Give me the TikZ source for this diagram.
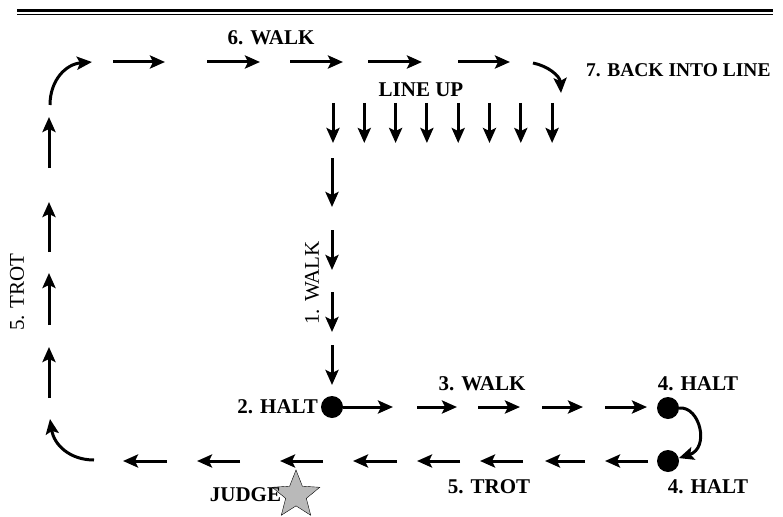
\documentclass[tikz,border=0pt]{standalone}
\usepackage{fontspec}
\setmainfont{Liberation Serif}
\usetikzlibrary{arrows.meta,shapes.geometric}
\tikzset{halt/.style = {circle,fill,inner sep=0pt,minimum size=22pt}}
\tikzset{pace/.style = {line width=3pt,-{Stealth[length=15pt,width=13pt,inset=3pt]}}}
\tikzset{lbl/.style = {inner sep=0pt,font=\fontsize{21}{24}\selectfont\bfseries}}
\tikzset{sidelbl/.style = {inner sep=0pt,rotate=90,font=\fontsize{21}{24}\selectfont}}

\begin{document}
\begin{tikzpicture}[x=1pt,y=-1pt]
    \useasboundingbox (0,0) rectangle (783,516);
    % rule at the top
    \draw[line width=3pt] (17,11) -- (773,11);
    \draw[line width=1pt] (17,14.5) -- (773,14.5);

    % halt points and the judge
    \node[halt] (h2) at (332,407) {};
    \node[halt] (h4a) at (668,408) {};
    \node[halt] (h4b) at (668,461) {};
    \node[star,star points=5,star point ratio=2.3,minimum size=50pt,inner sep=0pt,
          draw,fill=gray!55] (judge) at (296,495) {};

    % labels
    \node[lbl] (walk6) at (271,38) {6. WALK};
    \node[lbl] (lineup) at (421,90) {LINE UP};
    \node[lbl,anchor=west,font=\fontsize{19.5}{23}\selectfont\bfseries] (back) at (586,70) {7. BACK INTO LINE};
    \node[lbl,anchor=east] (halt2) at (318,407) {2. HALT};
    \node[lbl] (walk3) at (482,384) {3. WALK};
    \node[lbl] (halt4a) at (698,384) {4. HALT};
    \node[lbl] (halt4b) at (708,487) {4. HALT};
    \node[lbl] (trot5) at (489,487) {5. TROT};
    \node[lbl,anchor=east] (judgelbl) at (judge.west) {JUDGE};
    \node[sidelbl] (trotside) at (17,292) {5. TROT};
    \node[sidelbl] (walk1) at (312,283) {1. WALK};

    % 1. walk down to the halt
    \foreach \a/\b in {158/207,230/270,292/332,345/385}
        \draw[pace] (332,\a) -- (332,\b);
    % 3. walk to the far halt
    \draw[pace] (h2) -- (393,407);
    \foreach \a/\b in {417/457,478/520,542/583,605/647}
        \draw[pace] (\a,407) -- (\b,407);
    \draw[pace] (h4a.east) .. controls (700,406) and (710,448) .. (h4b.15);
    % 5. trot back past the judge and up the side
    \foreach \a/\b in {648/605,585/545,523/480,460/417,397/353,323/280,240/197,167/123}
        \draw[pace] (\a,461) -- (\b,461);
    \draw[pace] (94,460) .. controls (70,460) and (54,445) .. (50,419);
    \foreach \a/\b in {398/347,325/273,252/202,168/117}
        \draw[pace] (49,\a) -- (49,\b);
    \draw[pace] (50,105) .. controls (50,80) and (66,64) .. (92,62);
    % 6. walk along the top
    \foreach \a/\b in {113/165,207/260,290/343,368/422,458/510}
        \draw[pace] (\a,62) -- (\b,62);
    % 7. back into line
    \draw[pace] (533,63) .. controls (548,66) and (560,76) .. (561,93);
    \foreach \i in {0,...,7}
        \draw[pace] (333+31.3*\i,103) -- (333+31.3*\i,143);
\end{tikzpicture}
\end{document}
